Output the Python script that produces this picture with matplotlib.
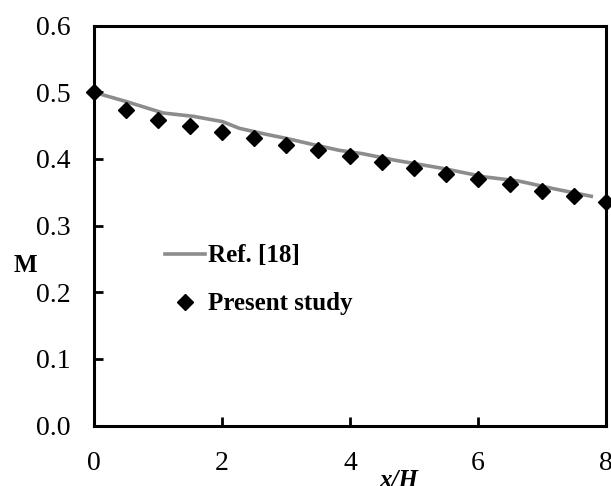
import numpy as np
import matplotlib
matplotlib.use("Agg")
import matplotlib.pyplot as plt

# Ref. [18] curve
ref_x = [0.0, 0.51, 1.08, 1.55, 2.01, 2.27, 2.69, 3.0, 3.36, 3.83, 4.19, 4.71, 5.44, 6.11, 6.63, 7.2, 7.77]
ref_m = [0.500, 0.486, 0.469, 0.464, 0.456, 0.446, 0.437, 0.431, 0.423, 0.413, 0.408, 0.398, 0.386, 0.373, 0.367, 0.355, 0.344]

# present study points
study_x = [0.0, 0.5, 1.0, 1.5, 2.0, 2.5, 3.0, 3.5, 4.0, 4.5, 5.0, 5.5, 6.0, 6.5, 7.0, 7.5, 8.0]
study_m = [0.500, 0.473, 0.459, 0.450, 0.441, 0.431, 0.421, 0.413, 0.405, 0.396, 0.387, 0.378, 0.370, 0.362, 0.352, 0.344, 0.335]

x_ticks = [0, 2, 4, 6, 8]
y_ticks = [0.0, 0.1, 0.2, 0.3, 0.4, 0.5, 0.6]

plt.rcParams['font.family'] = ['Liberation Serif', 'DejaVu Serif']

fig = plt.figure(figsize=(6.11, 4.86), dpi=100)
ax = fig.add_axes([94/611, 1 - 425.5/486, (606 - 94)/611, (425.5 - 25.7)/486])

ax.plot(ref_x, ref_m, color="#8c8c8c", linewidth=2.6, label="Ref. [18]", zorder=2)
ax.plot(study_x, study_m, "D", color="black", markersize=8.5, linestyle="none",
        label="Present study", zorder=3, clip_on=False)

ax.set_xlim(0, 8)
ax.set_ylim(0, 0.6)
ax.set_xticks(x_ticks)
ax.set_xticklabels([str(t) for t in x_ticks])
ax.set_yticks(y_ticks)
ax.set_yticklabels(["%.1f" % t for t in y_ticks])

for s in ax.spines.values():
    s.set_linewidth(2.2)
ax.tick_params(direction="in", length=6.5, width=2, labelsize=20)
ax.tick_params(axis="x", pad=18)
ax.tick_params(axis="y", pad=17)

ax.text(-0.133, 0.4, "M", transform=ax.transAxes, fontsize=18, fontweight="bold",
        ha="center", va="center")
ax.text(0.595, -0.137, "x/H", transform=ax.transAxes, fontsize=18, fontweight="bold",
        fontstyle="italic", ha="center", va="center")

leg = ax.legend(loc="upper left", bbox_to_anchor=(0.119, 0.478), frameon=False,
                prop={"weight": "bold", "size": 18}, handlelength=1.6,
                handletextpad=0.12, labelspacing=1.0, borderaxespad=0)

fig.savefig("out.png", dpi=100)
